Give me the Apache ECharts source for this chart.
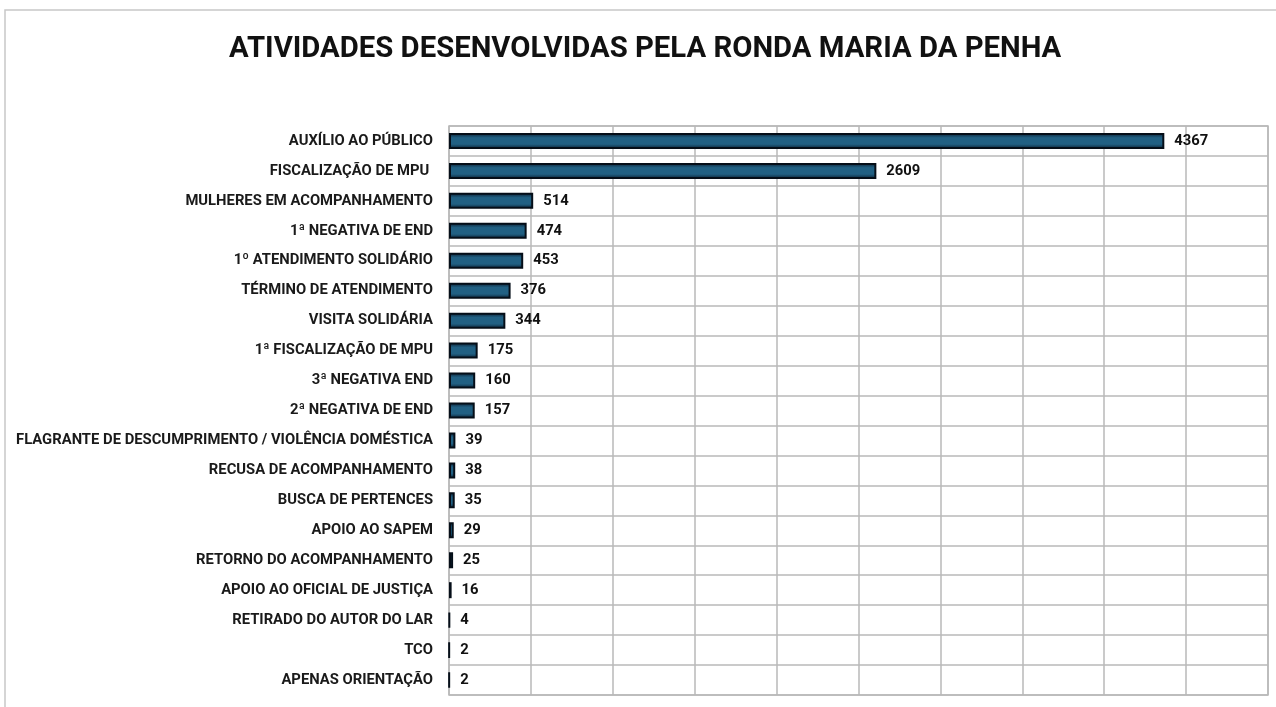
<!DOCTYPE html>
<html>
<head>
<meta charset="utf-8">
<script src="https://cdn.jsdelivr.net/npm/echarts@6/dist/echarts.min.js"></script>
<style>
  html, body { margin: 0; padding: 0; background: #fff; }
  #chart { width: 1276px; height: 707px; }
</style>
</head>
<body>
<div id="chart"></div>
<script>
// categorias, de cima para baixo
const categorias = [
  'AUXÍLIO AO PÚBLICO',
  'FISCALIZAÇÃO DE MPU ',
  'MULHERES EM ACOMPANHAMENTO',
  '1ª NEGATIVA DE END',
  '1º ATENDIMENTO SOLIDÁRIO',
  'TÉRMINO DE ATENDIMENTO',
  'VISITA SOLIDÁRIA',
  '1ª FISCALIZAÇÃO DE MPU',
  '3ª NEGATIVA END',
  '2ª NEGATIVA DE END',
  'FLAGRANTE DE DESCUMPRIMENTO / VIOLÊNCIA DOMÉSTICA',
  'RECUSA DE ACOMPANHAMENTO',
  'BUSCA DE PERTENCES',
  'APOIO AO SAPEM',
  'RETORNO DO ACOMPANHAMENTO',
  'APOIO AO OFICIAL DE JUSTIÇA',
  'RETIRADO DO AUTOR DO LAR',
  'TCO',
  'APENAS ORIENTAÇÃO'
];
const valores = [4367, 2609, 514, 474, 453, 376, 344, 175, 160, 157, 39, 38, 35, 29, 25, 16, 4, 2, 2];

const titulo = 'ATIVIDADES DESENVOLVIDAS PELA RONDA MARIA DA PENHA';

const myChart = echarts.init(document.getElementById('chart'));
myChart.setOption({
  animation: false,
  title: {
    text: titulo,
    left: 224,
    top: 30,
    textStyle: {
      fontFamily: 'Roboto',
      fontWeight: 'bold',
      fontSize: 29.3,
      color: '#111'
    }
  },
  graphic: [
    {
      type: 'rect',
      shape: { x: 5, y: 10, width: 1290, height: 720 },
      style: { fill: 'none', stroke: '#c8c8c8', lineWidth: 1.5 },
      silent: true
    }
  ],
  grid: {
    left: 449,
    top: 126,
    right: 8,
    bottom: 12,
    show: true,
    borderColor: '#b8b8b8',
    borderWidth: 1.5
  },
  xAxis: {
    type: 'value',
    min: 0,
    max: 5000,
    interval: 500,
    axisLabel: { show: false },
    axisLine: { show: false },
    axisTick: { show: false },
    splitLine: { show: true, lineStyle: { color: '#b8b8b8', width: 1.5 } }
  },
  yAxis: {
    type: 'category',
    data: categorias,
    inverse: true,
    axisLine: { show: false },
    axisTick: { show: false },
    splitLine: { show: true, lineStyle: { color: '#b8b8b8', width: 1.5 } },
    axisLabel: {
      margin: 16,
      color: '#1a1a1a',
      fontFamily: 'Roboto',
      fontWeight: 'bold',
      fontSize: 14.8,
      padding: [4, 0, 0, 0]
    }
  },
  series: [
    {
      type: 'bar',
      data: valores,
      barWidth: 16,
      itemStyle: {
        color: new echarts.graphic.LinearGradient(0, 0, 0, 1, [
          { offset: 0, color: '#0a1e30' },
          { offset: 0.3, color: '#216083' },
          { offset: 0.7, color: '#216083' },
          { offset: 1, color: '#0a1e30' }
        ]),
        borderColor: '#050e18',
        borderWidth: 2
      },
      label: {
        show: true,
        position: 'right',
        distance: 10,
        color: '#111',
        fontFamily: 'Roboto',
        fontWeight: 'bold',
        fontSize: 14.8,
        padding: [4, 0, 0, 0]
      }
    }
  ]
});
</script>
</body>
</html>
